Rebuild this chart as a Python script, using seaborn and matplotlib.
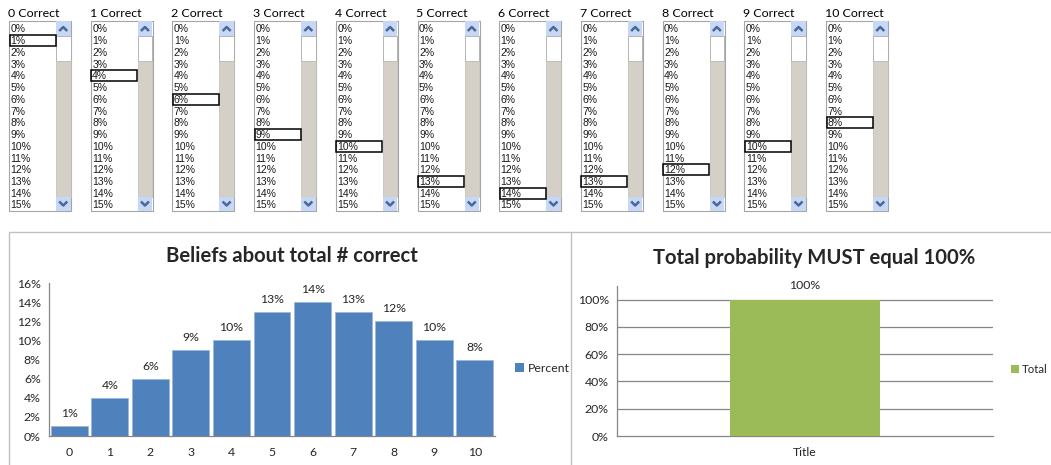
import matplotlib
matplotlib.use("Agg")
import matplotlib.pyplot as plt
from matplotlib.patches import Rectangle, Patch
import seaborn as sns
import pandas as pd

# ---------------- data ----------------
categories = ["0", "1", "2", "3", "4", "5", "6", "7", "8", "9", "10"]
percent = [1, 4, 6, 9, 10, 13, 14, 13, 12, 10, 8]          # beliefs, %
listbox_titles = [f"{c} Correct" for c in categories]
listbox_options = [f"{k}%" for k in range(16)]
total_cats = ["Title"]
total_vals = [100]
left_yticks = [0, 2, 4, 6, 8, 10, 12, 14, 16]
right_yticks = [0, 20, 40, 60, 80, 100]

# ---------------- style ----------------
sns.set_theme(style="white")
plt.rcParams["font.family"] = ["Lato", "DejaVu Sans"]

W, H = 1051, 465
BLUE = "#4F81BD"
GREEN = "#9BBB59"
AXC = "#868686"
FS = 8.8

fig = plt.figure(figsize=(W / 100, H / 100), dpi=100)
fig.patch.set_facecolor("white")


def rect(x0, y0, x1, y1):
    return [x0 / W, 1 - y1 / H, (x1 - x0) / W, (y1 - y0) / H]


# overlay axes in pixel coordinates for panel frames and list boxes
ov = fig.add_axes([0, 0, 1, 1])
ov.set_xlim(0, W)
ov.set_ylim(H, 0)
ov.axis("off")

# panel frames
ov.plot([9, 9, 1060], [470, 232, 232], color="#BFBFBF", lw=1)
ov.plot([571, 571], [232, 470], color="#BFBFBF", lw=1)

# list boxes
row0, rowh = 29.0, 11.73
for i, title in enumerate(listbox_titles):
    x0 = 9 + i * 81.7
    ov.text(x0 - 1, 13.5, title, fontsize=8.9, ha="left", va="center", color="#000000")
    # outer frame
    ov.add_patch(Rectangle((x0, 21), 62, 190, facecolor="white", edgecolor="#A5A5A5", lw=0.8))
    # scrollbar
    sx = x0 + 47
    ov.add_patch(Rectangle((sx, 21.5), 14.5, 14.5, facecolor="#C6D8F6", edgecolor="none"))
    ov.add_patch(Rectangle((sx, 36), 14.5, 25, facecolor="white", edgecolor="#A8A8A8", lw=0.6))
    ov.add_patch(Rectangle((sx, 61), 14.5, 136, facecolor="#D4D0C8", edgecolor="#C0BCB4", lw=0.5))
    ov.add_patch(Rectangle((sx, 197), 14.5, 13.5, facecolor="#C6D8F6", edgecolor="none"))
    cx = sx + 7.25
    ov.plot([cx - 4, cx, cx + 4], [31, 27, 31], color="#4A6796", lw=1.8, solid_capstyle="butt")
    ov.plot([cx - 4, cx, cx + 4], [201.5, 205.5, 201.5], color="#4A6796", lw=1.8, solid_capstyle="butt")
    # options
    for k, opt in enumerate(listbox_options):
        ov.text(x0 + 1.5, row0 + k * rowh + 0.5, opt, fontsize=7.5, ha="left", va="center",
                family=["Liberation Sans", "DejaVu Sans"], color="#1A1A1A")
    # selected item focus rectangle
    sel = percent[i]
    ov.add_patch(Rectangle((x0 + 0.5, row0 + sel * rowh - 5.5), 46, 11,
                           facecolor="none", edgecolor="black", lw=1.1))

# ---------------- left chart ----------------
df_left = pd.DataFrame({"cat": categories, "pct": [p / 100 for p in percent]})
ax1 = fig.add_axes(rect(49, 283, 495, 436))
ax1.set_facecolor("none")
sns.barplot(data=df_left, x="cat", y="pct", color=BLUE, saturation=1, width=0.91,
            edgecolor="#9DB7DB", linewidth=0.6, ax=ax1)
ax1.set_ylim(0, 0.16)
ax1.set_xlim(-0.5, len(categories) - 0.5)
ax1.set_yticks([t / 100 for t in left_yticks])
ax1.set_yticklabels([f"{t}%" for t in left_yticks])
ax1.set_xlabel("")
ax1.set_ylabel("")
for s in ["top", "right"]:
    ax1.spines[s].set_visible(False)
for s in ["left", "bottom"]:
    ax1.spines[s].set_color(AXC)
    ax1.spines[s].set_linewidth(0.9)
ax1.set_xticks([k - 0.5 for k in range(len(categories) + 1)], minor=True)
ax1.tick_params(axis="x", which="major", length=0, pad=8, labelsize=FS)
ax1.tick_params(axis="x", which="minor", length=4, color=AXC, direction="out", width=0.9)
ax1.tick_params(axis="y", length=4, color=AXC, direction="out", width=0.9, pad=2, labelsize=FS)
ax1.bar_label(ax1.containers[0], labels=[f"{p}%" for p in percent], padding=5, fontsize=FS)
ax1.legend(handles=[Patch(facecolor=BLUE, edgecolor="none")], labels=["Percent"],
           loc="center left", bbox_to_anchor=(515 / W, 1 - 368 / H), bbox_transform=fig.transFigure,
           frameon=False, borderaxespad=0, borderpad=0,
           handlelength=0.75, handleheight=0.75, handletextpad=0.3, fontsize=FS)
fig.text(292 / W, 1 - 256 / H, "Beliefs about total # correct", ha="center", va="center",
         fontsize=14.6, fontweight="bold")

# ---------------- right chart ----------------
df_right = pd.DataFrame({"cat": total_cats, "val": [v / 100 for v in total_vals]})
ax2 = fig.add_axes(rect(617, 286, 993, 436))
ax2.set_facecolor("none")
sns.barplot(data=df_right, x="cat", y="val", color=GREEN, saturation=1, width=0.4,
            edgecolor="none", ax=ax2, zorder=3)
ax2.set_ylim(0, 1.1)
ax2.set_xlim(-0.5, 0.5)
ax2.set_yticks([t / 100 for t in right_yticks])
ax2.set_yticklabels([f"{t}%" for t in right_yticks])
ax2.set_xlabel("")
ax2.set_ylabel("")
for t in right_yticks[1:]:
    ax2.axhline(t / 100, color=AXC, lw=0.9, zorder=1)
for s in ["top", "right"]:
    ax2.spines[s].set_visible(False)
for s in ["left", "bottom"]:
    ax2.spines[s].set_color(AXC)
    ax2.spines[s].set_linewidth(0.9)
ax2.set_xticks([-0.5, 0.5], minor=True)
ax2.tick_params(axis="x", which="major", length=0, pad=8, labelsize=FS)
ax2.tick_params(axis="x", which="minor", length=4, color=AXC, direction="out", width=0.9)
ax2.tick_params(axis="y", length=4, color=AXC, direction="out", width=0.9, pad=2, labelsize=FS)
ax2.bar_label(ax2.containers[0], labels=[f"{v}%" for v in total_vals], padding=6, fontsize=FS)
ax2.legend(handles=[Patch(facecolor=GREEN, edgecolor="none")], labels=["Total"],
           loc="center left", bbox_to_anchor=(1011 / W, 1 - 369 / H), bbox_transform=fig.transFigure,
           frameon=False, borderaxespad=0, borderpad=0,
           handlelength=0.7, handleheight=0.7, handletextpad=0.25, fontsize=8.2)
fig.text(814 / W, 1 - 258 / H, "Total probability MUST equal 100%", ha="center", va="center",
         fontsize=14.6, fontweight="bold")

fig.savefig("out.png", dpi=100, facecolor="white")
